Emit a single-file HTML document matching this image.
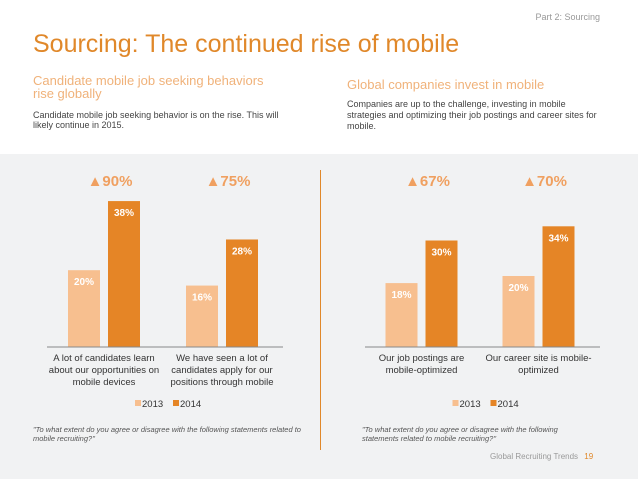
<!DOCTYPE html>
<html><head><meta charset="utf-8"><style>
body{margin:0;width:638px;height:479px;position:relative;overflow:hidden;background:#fff;font-family:"Liberation Sans",sans-serif}
.abs{position:absolute}
</style></head><body>
<div class="abs" style="right:38px;top:12px;font-size:9px;color:#999">Part 2: Sourcing</div>
<div class="abs" style="left:33px;top:30px;font-size:25px;color:#e0882a">Sourcing: The continued rise of mobile</div>
<div class="abs" style="left:33px;top:74px;font-size:13px;line-height:13px;color:#f0b27a;width:245px">Candidate mobile job seeking behaviors rise globally</div>
<div class="abs" style="left:33px;top:110px;font-size:9px;line-height:10px;color:#444;width:260px">Candidate mobile job seeking behavior is on the rise. This will likely continue in 2015.</div>
<div class="abs" style="left:347px;top:77px;font-size:13px;color:#f0b27a">Global companies invest in mobile</div>
<div class="abs" style="left:347px;top:99px;font-size:9px;line-height:11px;color:#444;width:250px">Companies are up to the challenge, investing in mobile strategies and optimizing their job postings and career sites for mobile.</div>
<div class="abs" style="left:0;top:154px;width:638px;height:325px;background:#f1f2f3"></div>
<div class="abs" style="left:320px;top:170px;width:1px;height:280px;background:#e0882a"></div>
<svg class="abs" style="left:0;top:0" width="638" height="479" id="svg"></svg>
<div class="abs" style="left:33px;top:425px;font-size:7.5px;line-height:9px;font-style:italic;color:#555;width:270px">"To what extent do you agree or disagree with the following statements related to mobile recruiting?"</div>
<div class="abs" style="left:362px;top:425px;font-size:7.5px;line-height:9px;font-style:italic;color:#555;width:205px">"To what extent do you agree or disagree with the following statements related to mobile recruiting?"</div>
<div class="abs" style="left:490px;top:452px;font-size:8px;color:#999">Global Recruiting Trends <span style="color:#e0882a;margin-left:4px">19</span></div>
<script>
const leftCategories=[["A lot of candidates learn","about our opportunities on","mobile devices"],["We have seen a lot of","candidates apply for our","positions through mobile"]];
const left2013=[20,16];
const left2014=[38,28];
const leftGrowth=["90%","75%"];
const rightCategories=[["Our job postings are","mobile-optimized"],["Our career site is mobile-","optimized"]];
const right2013=[18,20];
const right2014=[30,34];
const rightGrowth=["67%","70%"];
const legendLabels=["2013","2014"];
const NS="http://www.w3.org/2000/svg";
const svg=document.getElementById('svg');
function mk(tag,attrs,txt){const e=document.createElementNS(NS,tag);for(const k in attrs)e.setAttribute(k,attrs[k]);if(txt!==undefined)e.textContent=txt;svg.appendChild(e);return e;}
function chart(prefix,cats,a,b,growth,x0,x1,groupW,scale){
  const base=347;
  const y=v=>base-v*scale;
  cats.forEach((c,i)=>{
    const gx=x0+i*groupW;
    const cx=gx+groupW/2;
    const r1=mk('rect',{x:cx-38,y:y(a[i]),width:32,height:base-y(a[i]),fill:'#f7bf8f'});
    
    
    const r2=mk('rect',{x:cx+2,y:y(b[i]),width:32,height:base-y(b[i]),fill:'#e58526'});
    
    
    const t1=mk('text',{x:cx-22,y:y(a[i])+15,'text-anchor':'middle','font-size':'10','font-weight':'bold',fill:'#fff'},a[i]+'%');
    
    
    const t2=mk('text',{x:cx+18,y:y(b[i])+15,'text-anchor':'middle','font-size':'10','font-weight':'bold',fill:'#fff'},b[i]+'%');
    
    
    const g=mk('text',{x:cx+4,y:186,'text-anchor':'middle','font-size':'15','font-weight':'bold',fill:'#f0a060'},'\u25B2'+growth[i]);
    
    
    c.forEach((ln,j)=>{
      const t=mk('text',{x:cx-2,y:361+j*12,'text-anchor':'middle','font-size':'9.5',fill:'#333'},ln);
      
      
    });
  });
  const ax=mk('line',{x1:x0,x2:x1,y1:base,y2:base,stroke:'#888','stroke-width':1});
  
  
  const lx=(x0+x1)/2-30;
  legendLabels.forEach((l,i)=>{
    const s=mk('rect',{x:lx+i*38,y:400,width:6,height:6,fill:i?'#e58526':'#f7bf8f'});
    
    
    const t=mk('text',{x:lx+i*38+7,y:407,'font-size':'9.5',fill:'#333'},l);
    
    
  });
}
chart('left',leftCategories,left2013,left2014,leftGrowth,47,283,118,3.84);
chart('right',rightCategories,right2013,right2014,rightGrowth,365,600,117,3.55);
</script>
</body></html>
